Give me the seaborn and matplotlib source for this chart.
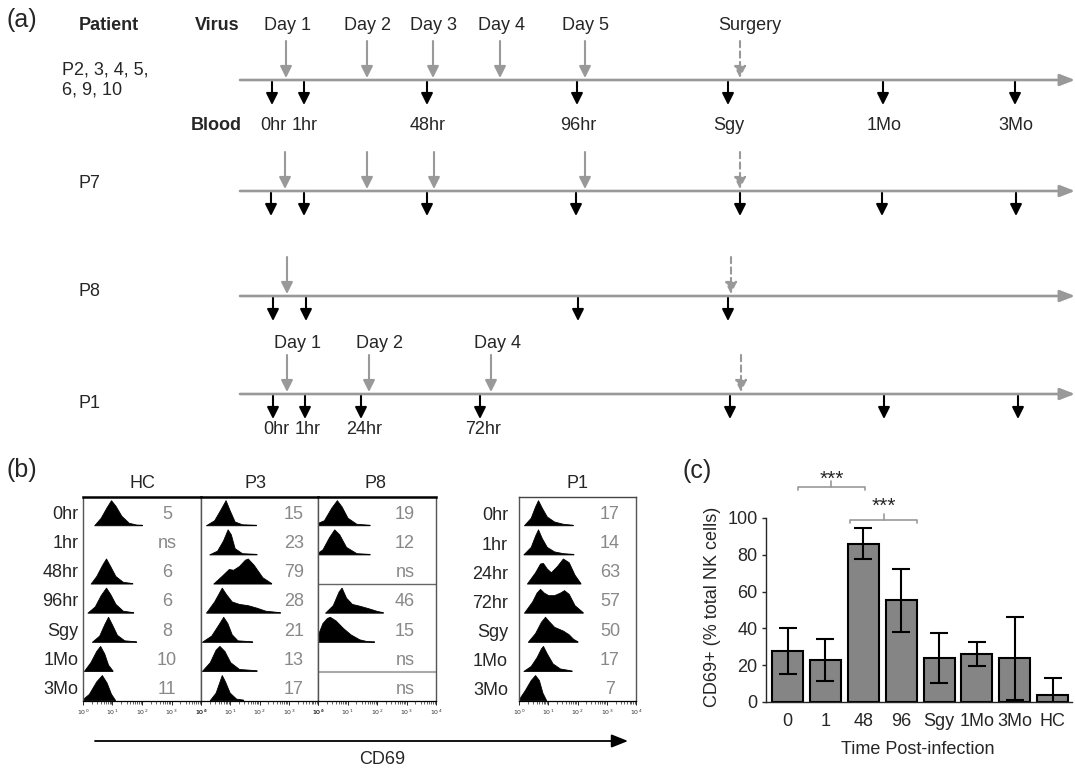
import matplotlib
matplotlib.use('Agg')
import matplotlib.pyplot as plt
import seaborn as sns
import numpy as np

# panel (a): sampling schedule, positions along each timeline (figure pixels)
virus_days = ['Day 1', 'Day 2', 'Day 3', 'Day 4', 'Day 5']
blood_labels = ['0hr', '1hr', '48hr', '96hr', 'Sgy', '1Mo', '3Mo']
p1_days = ['Day 1', 'Day 2', 'Day 4']
p1_blood_labels = ['0hr', '1hr', '24hr', '72hr']
patients = ['P2, 3, 4, 5,\n6, 9, 10', 'P7', 'P8', 'P1']
virus_x = [[286, 367, 433, 500, 585], [285, 367, 434, 585], [287], [287, 369, 491]]
surgery_x = [740, 740, 731, 741]
blood_x = [[272, 304, 427, 577, 728, 883, 1015],
           [271, 304, 427, 576, 740, 882, 1016],
           [273, 306, 578, 728],
           [273, 305, 361, 480, 730, 884, 1018]]

# panel (b): CD69 histograms, knots in log10 units and relative heights
rows_b = ['0hr', '1hr', '48hr', '96hr', 'Sgy', '1Mo', '3Mo']
rows_p1 = ['0hr', '1hr', '24hr', '72hr', 'Sgy', '1Mo', '3Mo']
hc_pct = ['5', 'ns', '6', '6', '8', '10', '11']
p3_pct = ['15', '23', '79', '28', '21', '13', '17']
p8_pct = ['19', '12', 'ns', '46', '15', 'ns', 'ns']
p1_pct = ['17', '14', '63', '57', '50', '17', '7']

hc_x = [[0.38, 0.6, 0.8, 0.95, 1.1, 1.3, 1.55, 1.8, 2.0], None,
        [0.26, 0.45, 0.65, 0.78, 0.92, 1.1, 1.35, 1.67],
        [0.15, 0.4, 0.6, 0.78, 0.92, 1.1, 1.35, 1.7],
        [0.3, 0.55, 0.72, 0.85, 0.98, 1.15, 1.4, 1.8],
        [0.03, 0.25, 0.45, 0.58, 0.72, 0.85, 1.0],
        [0.0, 0.2, 0.45, 0.64, 0.8, 0.95, 1.08]]
hc_h = [[0, 0.3, 0.72, 1.0, 0.78, 0.38, 0.1, 0.03, 0.02], None,
        [0, 0.3, 0.75, 1.0, 0.7, 0.3, 0.07, 0.02],
        [0, 0.25, 0.7, 1.0, 0.75, 0.35, 0.08, 0.02],
        [0, 0.25, 0.7, 1.0, 0.7, 0.28, 0.06, 0.02],
        [0, 0.35, 0.8, 1.0, 0.7, 0.25, 0.02],
        [0.05, 0.25, 0.75, 1.0, 0.7, 0.25, 0.02]]

p3_x = [[0.17, 0.45, 0.65, 0.84, 0.98, 1.15, 1.4, 1.88],
        [0.28, 0.55, 0.75, 0.91, 1.02, 1.15, 1.4, 1.9],
        [0.42, 0.7, 0.95, 1.1, 1.3, 1.5, 1.6, 1.8, 2.1, 2.4],
        [0.17, 0.45, 0.71, 0.85, 1.05, 1.3, 1.6, 1.9, 2.2, 2.7],
        [0.03, 0.35, 0.6, 0.76, 0.9, 1.05, 1.25, 1.75],
        [0.03, 0.3, 0.5, 0.63, 0.8, 1.0, 1.3, 1.9],
        [0.3, 0.5, 0.62, 0.71, 0.82, 0.98, 1.2, 1.44]]
p3_h = [[0, 0.2, 0.6, 1.0, 0.6, 0.15, 0.04, 0.02],
        [0, 0.15, 0.55, 1.0, 0.8, 0.25, 0.05, 0.02],
        [0, 0.3, 0.58, 0.55, 0.7, 0.95, 1.0, 0.75, 0.25, 0.02],
        [0, 0.45, 1.0, 0.75, 0.45, 0.35, 0.3, 0.2, 0.08, 0.02],
        [0, 0.25, 0.7, 1.0, 0.75, 0.3, 0.06, 0.02],
        [0, 0.35, 0.85, 1.0, 0.8, 0.35, 0.08, 0.03],
        [0, 0.3, 0.7, 1.0, 0.75, 0.3, 0.06, 0.02]]

p8_x = [[0.0, 0.2, 0.45, 0.64, 0.8, 1.0, 1.3, 1.75],
        [0.0, 0.15, 0.38, 0.55, 0.72, 0.95, 1.3, 1.75], None,
        [0.24, 0.5, 0.7, 0.8, 0.95, 1.15, 1.4, 1.7, 2.0, 2.2],
        [0.0, 0.15, 0.3, 0.4, 0.6, 0.85, 1.1, 1.4, 1.65, 1.9], None, None]
p8_h = [[0.1, 0.2, 0.7, 1.0, 0.75, 0.3, 0.06, 0.02],
        [0.08, 0.2, 0.7, 1.0, 0.8, 0.3, 0.05, 0.02], None,
        [0, 0.3, 0.85, 1.0, 0.6, 0.35, 0.28, 0.18, 0.07, 0.02],
        [0.3, 0.75, 0.95, 1.0, 0.85, 0.55, 0.3, 0.1, 0.03, 0.02], None, None]

p1_x = [[0.17, 0.4, 0.55, 0.65, 0.78, 0.95, 1.2, 1.5, 1.84],
        [0.15, 0.4, 0.55, 0.65, 0.78, 0.95, 1.2, 1.5, 1.86],
        [0.27, 0.55, 0.72, 0.82, 0.95, 1.09, 1.3, 1.5, 1.7, 1.9, 2.1],
        [0.17, 0.45, 0.6, 0.72, 0.85, 1.0, 1.2, 1.4, 1.54, 1.7, 1.9, 2.18],
        [0.3, 0.55, 0.75, 0.89, 1.0, 1.2, 1.5, 1.7, 1.85, 2.0],
        [0.15, 0.4, 0.6, 0.75, 0.82, 0.95, 1.15, 1.4, 1.8],
        [0.0, 0.2, 0.4, 0.55, 0.68, 0.8, 0.92]]
p1_h = [[0, 0.3, 0.75, 1.0, 0.7, 0.35, 0.15, 0.06, 0.02],
        [0, 0.3, 0.75, 1.0, 0.65, 0.3, 0.12, 0.05, 0.02],
        [0, 0.45, 0.8, 0.82, 0.6, 0.45, 0.7, 1.0, 0.85, 0.35, 0.02],
        [0, 0.45, 0.8, 0.95, 0.8, 0.7, 0.7, 0.8, 0.9, 0.75, 0.3, 0.02],
        [0, 0.35, 0.8, 1.0, 0.85, 0.6, 0.45, 0.3, 0.12, 0.02],
        [0, 0.2, 0.55, 0.9, 1.0, 0.7, 0.3, 0.1, 0.02],
        [0.05, 0.4, 0.8, 1.0, 0.8, 0.3, 0.02]]

# panel (c): CD69+ NK cells
time_points = ['0', '1', '48', '96', 'Sgy', '1Mo', '3Mo', 'HC']
cd69_mean = [27.8, 22.9, 86, 55.3, 23.9, 26, 23.7, 3.8]
cd69_err = [12.6, 11.3, 8.5, 17, 13.4, 6.4, 22.6, 9.1]

sns.set_style('ticks')
plt.rcParams['font.family'] = ['Liberation Sans', 'DejaVu Sans']

W, H = 1075, 769
fig = plt.figure(figsize=(W / 100, H / 100), dpi=100)


def px_axes(x0, y0, x1, y1, **kw):
    return fig.add_axes([x0 / W, 1 - y1 / H, (x1 - x0) / W, (y1 - y0) / H], **kw)


GRAY = '#999999'
FS = 13

# ---------- overlay for schematic + labels ----------
ov = px_axes(0, 0, W, H, zorder=5)
ov.set_xlim(0, W)
ov.set_ylim(H, 0)
ov.axis('off')
ov.patch.set_alpha(0)


def arrow(x0, y0, x1, y1, color, lw, ls='-', hw=0.35, hl=0.7):
    ov.annotate('', xy=(x1, y1), xytext=(x0, y0),
                arrowprops=dict(arrowstyle=f'-|>,head_width={hw},head_length={hl}',
                                color=color, lw=lw, linestyle=ls,
                                shrinkA=0, shrinkB=0, mutation_scale=10))


line_y = [80, 191, 296, 394]
label_y = [80, 183, 292, 403]
for k in range(4):
    y = line_y[k]
    arrow(240, y, W, y, GRAY, 1.9, hl=0.9)
    for x in virus_x[k]:
        arrow(x, y - 39, x, y - 2, GRAY, 1.5)
    arrow(surgery_x[k], y - 39, surgery_x[k], y - 2, GRAY, 1.5, ls=(0, (3, 2)))
    for x in blood_x[k]:
        arrow(x, y + 2, x, y + 25, 'black', 1.5)
    ov.text(62 if k == 0 else 79, label_y[k], patients[k], fontsize=FS,
            ha='left', va='center', linespacing=1.25)

ov.text(7, 20, '(a)', fontsize=18, ha='left', va='center')
ov.text(79, 25, 'Patient', fontsize=FS, fontweight='bold', va='center')
ov.text(195, 25, 'Virus', fontsize=FS, fontweight='bold', va='center')
ov.text(191, 126, 'Blood', fontsize=FS, fontweight='bold', va='center')
for lab, x in zip(virus_days, virus_x[0]):
    ov.text(x + 1, 25, lab, fontsize=FS, ha='center', va='center')
ov.text(750, 25, 'Surgery', fontsize=FS, ha='center', va='center')
for lab, x in zip(blood_labels, blood_x[0]):
    ov.text(x + 1, 126, lab, fontsize=FS, ha='center', va='center')
for lab, x in zip(p1_days, virus_x[3]):
    ov.text(x + 10 if lab != 'Day 4' else x + 6, 344, lab, fontsize=FS, ha='center', va='center')
for lab, x in zip(p1_blood_labels, blood_x[3]):
    ov.text(x + 3, 430, lab, fontsize=FS, ha='center', va='center')

# ---------- panel (b) ----------
ov.text(7, 470, '(b)', fontsize=18, ha='left', va='center')
cols = [('HC', (83, 201), hc_x, hc_h, hc_pct, 2.85, 142),
        ('P3', (201, 318), p3_x, p3_h, p3_pct, 3.18, 255),
        ('P8', (318, 436), p8_x, p8_h, p8_pct, 2.95, 375),
        ('P1', (519, 636), p1_x, p1_h, p1_pct, 3.11, 577)]
for name, (x0, x1), kx, kh, pct, num_x, head_x in cols:
    ax = px_axes(x0, 497, x1, 701)
    ax.set_xlim(0, 4)
    ax.set_ylim(7, 0)
    for i in range(7):
        if kx[i] is not None:
            base = i + 0.97
            top = base - 0.86 * np.array(kh[i])
            ax.fill_between(kx[i], top, base, color='black', lw=0.6)
        ax.text(num_x, i + 0.6, pct[i], fontsize=FS, color='#888888', ha='center', va='center')
    ax.set_yticks([])
    ax.set_xticks(range(5))
    ax.set_xticklabels([rf'$10^{{{d}}}$' for d in range(5)], fontsize=4.5, color='#333333')
    minor = [np.log10(m) + d for d in range(4) for m in range(2, 10)]
    ax.set_xticks(minor, minor=True)
    ax.tick_params(axis='x', which='major', length=3, width=0.7, pad=2)
    ax.tick_params(axis='x', which='minor', length=1.8, width=0.5)
    for s in ['left', 'right']:
        ax.spines[s].set_color('#555555')
        ax.spines[s].set_linewidth(1.0)
    ax.spines['bottom'].set_color('black')
    ax.spines['bottom'].set_linewidth(0.9)
    if name == 'P1':
        ax.spines['top'].set_color('#444444')
        ax.spines['top'].set_linewidth(1.0)
    else:
        ax.spines['top'].set_color('black')
        ax.spines['top'].set_linewidth(1.8)
    if name == 'P8':
        ax.axhline(3, color='#666666', lw=1.0)
        ax.axhline(6, color='#aaaaaa', lw=1.5)
    ov.text(head_x, 484, name, fontsize=FS, ha='center', va='center')
    if name == 'HC':
        for i, lab in enumerate(rows_b):
            ax.text(-0.16, i + 0.6, lab, fontsize=FS, ha='right', va='center')
    if name == 'P1':
        for i, lab in enumerate(rows_p1):
            ax.text(-0.38, i + 0.65, lab, fontsize=FS, ha='right', va='center')

arrow(95, 741, 628, 741, 'black', 1.3, hw=0.4, hl=1.0)
ov.text(382, 760, 'CD69', fontsize=FS, ha='center', va='center')

# ---------- panel (c) ----------
ov.text(683, 471, '(c)', fontsize=18, ha='left', va='center')
axc = px_axes(766, 518, 1072, 702)
sns.barplot(x=time_points, y=cd69_mean, color='#858585', saturation=1,
            edgecolor='black', linewidth=1.5, width=0.82, errorbar=None, ax=axc)
axc.errorbar(range(len(time_points)), cd69_mean, yerr=cd69_err, fmt='none',
             ecolor='black', elinewidth=1.5, capsize=6.5, capthick=1.5)
axc.set_xlim(-0.57, 7.51)
axc.set_ylim(0, 100)
axc.set_yticks(range(0, 101, 20))
axc.tick_params(axis='y', labelsize=FS, length=3, width=1, pad=3)
axc.tick_params(axis='x', labelsize=FS, length=0, pad=8)
sns.despine(ax=axc)
axc.spines['left'].set_linewidth(1.0)
axc.spines['bottom'].set_linewidth(1.0)
axc.set_ylabel('CD69+ (% total NK cells)', fontsize=FS)
axc.yaxis.set_label_coords(-0.147, 0.516)
axc.set_xlabel('Time Post-infection', fontsize=FS)
axc.xaxis.set_label_coords(0.497, -0.21)

# significance brackets
brackets = [(0.27, 2.04, 116.8, 126), (1.64, 3.43, 98.9, 111.6)]
for xa, xb, yb, ys in brackets:
    xm = (xa + xb) / 2
    axc.plot([xa, xa, xb, xb], [yb - 1.6, yb, yb, yb - 1.6], color=GRAY, lw=1.2, clip_on=False)
    axc.plot([xm, xm], [yb, yb + 3.5], color=GRAY, lw=1.2, clip_on=False)
    axc.text(xm, ys - 5, '***', fontsize=15, ha='center', va='center')

fig.savefig('out.png', dpi=100)
